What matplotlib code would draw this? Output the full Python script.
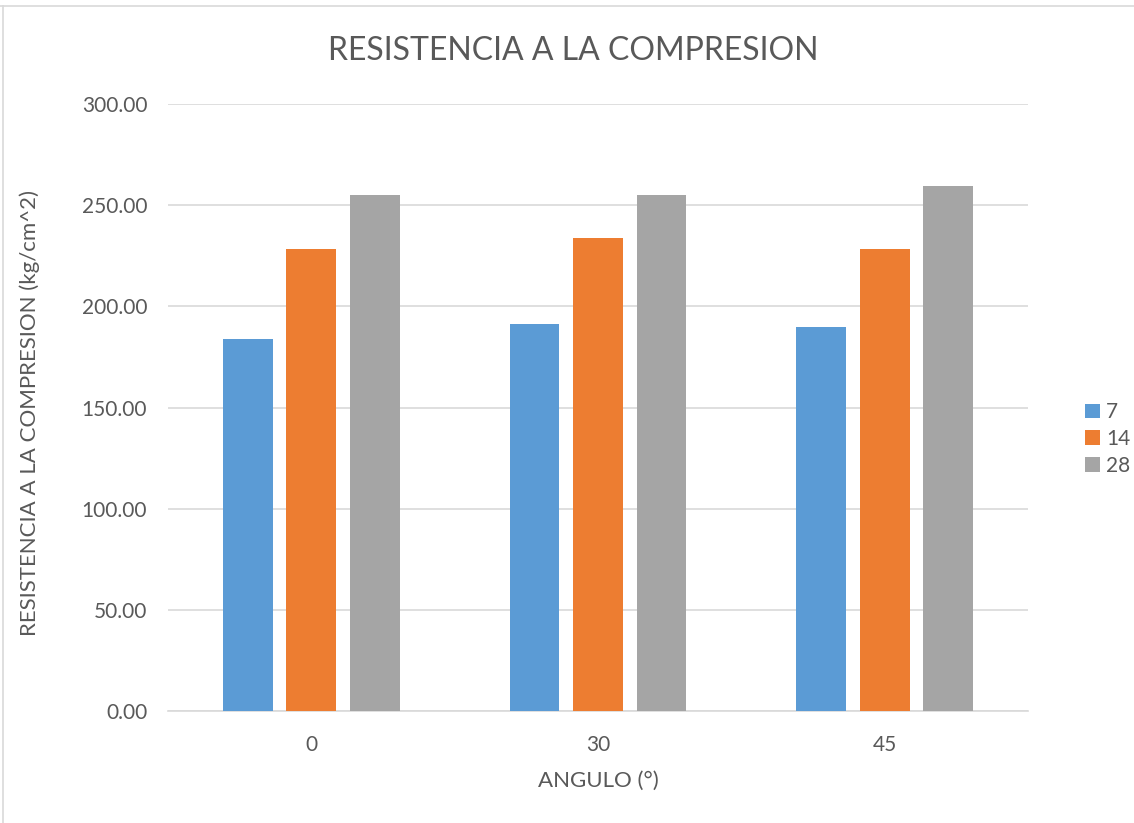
import numpy as np
import matplotlib
matplotlib.use("Agg")
import matplotlib.pyplot as plt
from matplotlib.lines import Line2D

plt.rcParams['font.family'] = ['Lato', 'DejaVu Sans']

angulos = ["0", "30", "45"]
edades = ["7", "14", "28"]
res_7 = [184.0, 191.3, 189.8]
res_14 = [228.3, 233.8, 228.3]
res_28 = [255.2, 254.9, 259.6]
colores = ["#5b9bd5", "#ed7d31", "#a5a5a5"]
gris = "#595959"

W, H = 1134, 823
fig = plt.figure(figsize=(W / 100, H / 100), dpi=100)
ax = fig.add_axes([168 / W, 1 - 711 / H, 860 / W, 607 / H])

x = np.arange(len(angulos))
ancho = 0.174
paso = 0.2215
for i, (serie, nombre) in enumerate(zip([res_7, res_14, res_28], edades)):
    ax.bar(x + (i - 1) * paso, serie, ancho, color=colores[i], label=nombre, zorder=3)

ax.set_xlim(-0.5, 2.5)
ax.set_ylim(0, 300)
ax.set_yticks(np.arange(0, 301, 50))
ax.set_yticklabels(["%.2f" % v for v in np.arange(0, 301, 50)])
ax.set_xticks(x)
ax.set_xticklabels(angulos)
ax.grid(axis="y", color="#d9d9d9", linewidth=1.2, zorder=0)
for s in ["top", "right", "left"]:
    ax.spines[s].set_visible(False)
ax.spines["bottom"].set_color("#d9d9d9")
ax.spines["bottom"].set_linewidth(1.2)
ax.tick_params(axis="y", length=0, labelsize=15, colors=gris, pad=15)
ax.tick_params(axis="x", length=0, labelsize=15, colors=gris, pad=17)

fig.text(573 / W, 1 - 51 / H, "RESISTENCIA A LA COMPRESION", fontsize=23,
         color=gris, ha="center", va="center")
fig.text(598 / W, 1 - 781 / H, "ANGULO (°)", fontsize=16, color=gris,
         ha="center", va="center")
fig.text(30 / W, 1 - 413 / H, "RESISTENCIA A LA COMPRESION (kg/cm^2)", fontsize=16,
         color=gris, ha="center", va="center", rotation=90)

ax.legend(loc="center left", bbox_to_anchor=(1085 / W, 1 - 439 / H),
          bbox_transform=fig.transFigure, frameon=False, borderpad=0, borderaxespad=0,
          fontsize=15, handlelength=0.7, handleheight=0.7, handletextpad=0.3,
          labelspacing=0.32, labelcolor=gris)

# marco del grafico y resto de la pagina
fig.add_artist(Line2D([0, 1], [1 - 6 / H, 1 - 6 / H], color="#d9d9d9", lw=1.2))
fig.add_artist(Line2D([3 / W, 3 / W], [0, 1 - 6 / H], color="#d9d9d9", lw=1.2))
fig.text(486 / W, 1 + 12 / H, "p", fontsize=16, family="Liberation Serif",
         ha="center", va="baseline", color="black")

fig.savefig("out.png", dpi=100)
